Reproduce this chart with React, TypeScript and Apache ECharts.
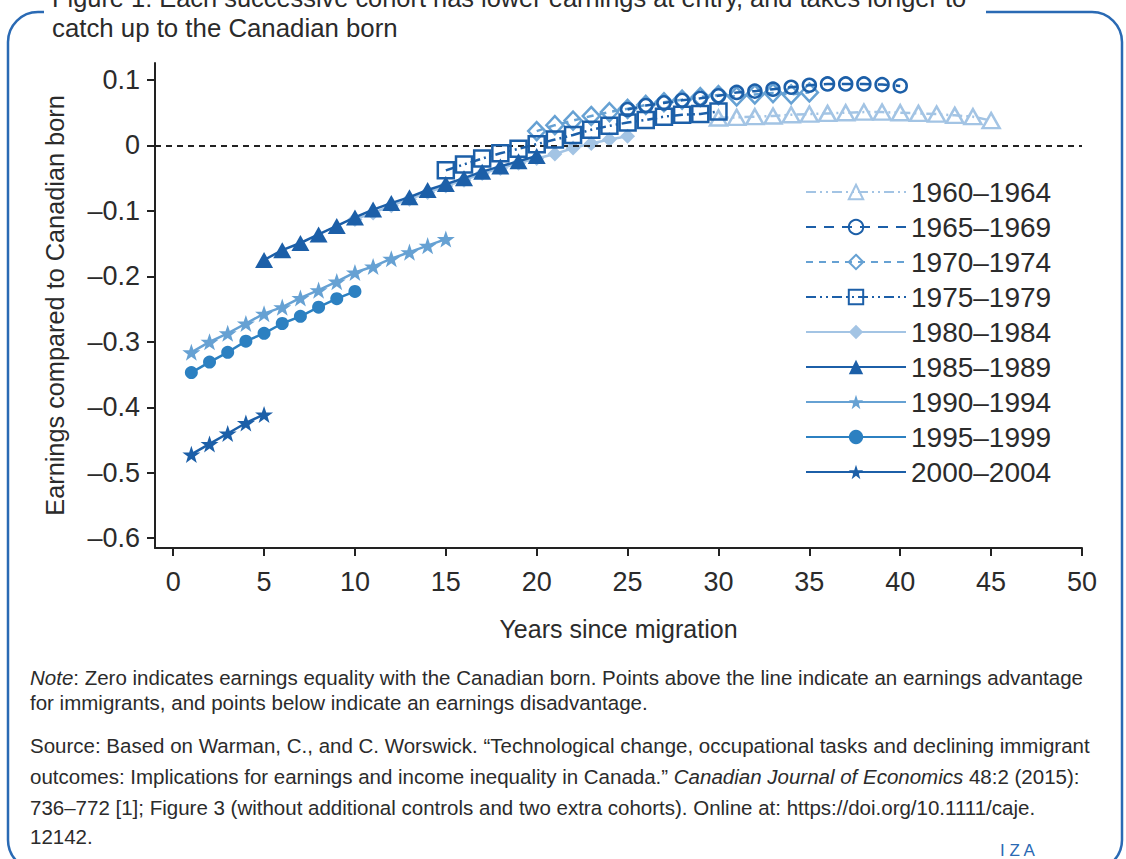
import React, { useEffect, useRef } from "react";
import * as echarts from "echarts";

// ---------- data ----------
const cohorts = ["1960–1964", "1965–1969", "1970–1974", "1975–1979", "1980–1984", "1985–1989", "1990–1994", "1995–1999", "2000–2004"];

const years1960 = [30, 31, 32, 33, 34, 35, 36, 37, 38, 39, 40, 41, 42, 43, 44, 45];
const vals1960 = [0.042, 0.043, 0.044, 0.045, 0.047, 0.048, 0.049, 0.05, 0.051, 0.051, 0.05, 0.049, 0.048, 0.046, 0.044, 0.038];

const years1965 = [25, 26, 27, 28, 29, 30, 31, 32, 33, 34, 35, 36, 37, 38, 39, 40];
const vals1965 = [0.055, 0.061, 0.065, 0.069, 0.072, 0.076, 0.081, 0.083, 0.086, 0.089, 0.092, 0.094, 0.094, 0.094, 0.093, 0.091];

const years1970 = [20, 21, 22, 23, 24, 25, 26, 27, 28, 29, 30, 31, 32, 33, 34, 35];
const vals1970 = [0.022, 0.031, 0.038, 0.045, 0.051, 0.056, 0.062, 0.066, 0.07, 0.074, 0.077, 0.075, 0.078, 0.08, 0.078, 0.081];

const years1975 = [15, 16, 17, 18, 19, 20, 21, 22, 23, 24, 25, 26, 27, 28, 29, 30];
const vals1975 = [-0.038, -0.029, -0.02, -0.012, -0.005, 0.002, 0.009, 0.016, 0.024, 0.03, 0.035, 0.039, 0.044, 0.047, 0.048, 0.052];

const years1980 = [10, 11, 12, 13, 14, 15, 16, 17, 18, 19, 20, 21, 22, 23, 24, 25];
const vals1980 = [-0.113, -0.103, -0.092, -0.082, -0.072, -0.062, -0.053, -0.043, -0.035, -0.027, -0.02, -0.013, -0.004, 0.003, 0.009, 0.014];

const years1985 = [5, 6, 7, 8, 9, 10, 11, 12, 13, 14, 15, 16, 17, 18, 19, 20];
const vals1985 = [-0.175, -0.16, -0.149, -0.136, -0.123, -0.11, -0.098, -0.088, -0.079, -0.068, -0.059, -0.05, -0.04, -0.032, -0.024, -0.016];

const years1990 = [1, 2, 3, 4, 5, 6, 7, 8, 9, 10, 11, 12, 13, 14, 15];
const vals1990 = [-0.316, -0.3, -0.287, -0.272, -0.257, -0.247, -0.233, -0.221, -0.208, -0.194, -0.185, -0.173, -0.163, -0.153, -0.143];

const years1995 = [1, 2, 3, 4, 5, 6, 7, 8, 9, 10];
const vals1995 = [-0.347, -0.331, -0.316, -0.299, -0.287, -0.272, -0.261, -0.247, -0.234, -0.223];

const years2000 = [1, 2, 3, 4, 5];
const vals2000 = [-0.472, -0.456, -0.44, -0.424, -0.411];

const xTicks = [0, 5, 10, 15, 20, 25, 30, 35, 40, 45, 50];
const yTicks = [-0.6, -0.5, -0.4, -0.3, -0.2, -0.1, 0, 0.1];

const titleLine1 = "Figure 1: Each successive cohort has lower earnings at entry, and takes longer to";
const titleLine2 = "catch up to the Canadian born";
const yAxisTitle = "Earnings compared to Canadian born";
const xAxisTitle = "Years since migration";

// ---------- styles ----------
const FONT = "'Liberation Sans', Arial, sans-serif";
const DARK = "#1c5fa8";
const MID = "#2c80c1";
const LMID = "#66a1d3";
const LIGHT = "#a3c4e4";
const FRAME = "#2a6ab4";
const TXT = "#2b2b2b";
const STAR = "path://M50,0 L61.8,35.3 L98.5,35.3 L69,57.2 L79.4,92 L50,70.6 L20.6,92 L31,57.2 L1.5,35.3 L38.2,35.3 Z";
const DASHDOTDOT = [10, 4, 2, 4, 2, 4];

const zip = (xs: number[], ys: number[]) => xs.map((x, i) => [x, ys[i]]);

function App() {
  const ref = useRef<HTMLDivElement>(null);
  useEffect(() => {
    const chart = echarts.init(ref.current!, null, { renderer: "svg" });

    const mk = (name: string, xs: number[], ys: number[], color: string, lineType: any, symbol: string, size: any, hollow: boolean, z: number, extra: any = {}) => ({
      name,
      type: "line",
      data: zip(xs, ys),
      symbol,
      symbolSize: size,
      symbolKeepAspect: true,
      showSymbol: true,
      z,
      lineStyle: { color, width: 2.5, type: lineType },
      itemStyle: hollow
        ? { color: "rgba(255,255,255,0)", borderColor: color, borderWidth: 2.5, opacity: 1 }
        : { color, borderWidth: 0 },
      emphasis: { disabled: true },
      ...extra,
    });

    const series: any[] = [
      mk(cohorts[0], years1960, vals1960, LIGHT, DASHDOTDOT, "triangle", [17, 15], true, 2),
      mk(cohorts[4], years1980, vals1980, LIGHT, "solid", "diamond", [15, 15], false, 2),
      mk(cohorts[5], years1985, vals1985, DARK, "solid", "triangle", [18, 16], false, 3, {
        markLine: {
          silent: true,
          symbol: ["none", "none"],
          label: { show: false },
          lineStyle: { color: "#222", type: [6, 5], width: 2 },
          data: [{ yAxis: 0 }],
        },
      }),
      mk(cohorts[6], years1990, vals1990, LMID, "solid", STAR, [18, 18], false, 3),
      mk(cohorts[7], years1995, vals1995, MID, "solid", "circle", 13, false, 3),
      mk(cohorts[8], years2000, vals2000, DARK, "solid", STAR, [18, 18], false, 3),
      mk(cohorts[2], years1970, vals1970, LMID, [7, 6], "diamond", [17, 18], true, 4),
      mk(cohorts[1], years1965, vals1965, DARK, [10, 8], "circle", 13, true, 5),
      mk(cohorts[3], years1975, vals1975, DARK, DASHDOTDOT, "rect", [16, 16], true, 6),
    ];

    const yFmt = (v: number) => (v < 0 ? "–" + String(Math.abs(v)) : String(v));

    const noteLines = [
      "{i|Note}: Zero indicates earnings equality with the Canadian born. Points above the line indicate an earnings advantage",
      "for immigrants, and points below indicate an earnings disadvantage.",
    ];
    const sourceLines = [
      "Source: Based on Warman, C., and C. Worswick. “Technological change, occupational tasks and declining immigrant",
      "outcomes: Implications for earnings and income inequality in Canada.” {i|Canadian Journal of Economics} 48:2 (2015):",
      "736–772 [1]; Figure 3 (without additional controls and two extra cohorts). Online at: https://doi.org/10.1111/caje.",
      "12142.",
    ];
    const NOTE_SIZE = 20.5;
    const rich = { i: { fontStyle: "italic", fontSize: NOTE_SIZE, fontFamily: FONT, fill: TXT } };
    const textEl = (t: string, x: number, y: number, size: number) => ({
      type: "text",
      x,
      y,
      silent: true,
      style: { text: t, fontSize: size, fontFamily: FONT, fill: TXT, verticalAlign: "middle", align: "left", rich },
    });

    const noteY = [677, 702];
    const srcY = [745, 776, 807, 836];

    const graphic: any[] = [
      { type: "rect", silent: true, z: 0, shape: { x: 8, y: 12, width: 1114, height: 858, r: 30 }, style: { fill: "none", stroke: FRAME, lineWidth: 2.5 } },
      { type: "rect", silent: true, z: 1, shape: { x: 44, y: 0, width: 942, height: 24 }, style: { fill: "#fff" } },
      { type: "text", z: 2, silent: true, x: 52, y: -2, style: { text: titleLine1, fontSize: 25.4, fontFamily: FONT, fill: TXT, verticalAlign: "middle" } },
      { type: "text", z: 2, silent: true, x: 52, y: 28, style: { text: titleLine2, fontSize: 25.8, fontFamily: FONT, fill: TXT, verticalAlign: "middle" } },
      ...noteLines.map((t, i) => textEl(t, 30, noteY[i], NOTE_SIZE)),
      ...sourceLines.map((t, i) => textEl(t, 30, srcY[i], NOTE_SIZE)),
      { type: "text", z: 2, silent: true, x: 1000, y: 850, style: { text: "I Z A", fontSize: 17, fontFamily: FONT, fill: FRAME, verticalAlign: "middle" } },
    ];

    chart.setOption({
      animation: false,
      backgroundColor: "#fff",
      grid: { left: 155, top: 63, width: 927, height: 485, outerBoundsMode: "none", containLabel: false },
      xAxis: {
        type: "value",
        min: -1,
        max: 50,
        name: xAxisTitle,
        nameLocation: "middle",
        nameGap: 68,
        nameTextStyle: { fontSize: 25, fontFamily: FONT, color: TXT },
        axisLine: { show: true, onZero: false, lineStyle: { color: "#222", width: 2 } },
        axisTick: { show: true, length: 8, lineStyle: { color: "#222", width: 2 }, customValues: xTicks },
        axisLabel: { fontSize: 27, fontFamily: FONT, color: TXT, margin: 20, customValues: xTicks },
        splitLine: { show: false },
      },
      yAxis: {
        type: "value",
        min: -0.615,
        max: 0.126,
        name: yAxisTitle,
        nameLocation: "middle",
        nameGap: 88,
        nameTextStyle: { fontSize: 25.3, fontFamily: FONT, color: TXT },
        axisLine: { show: true, onZero: false, lineStyle: { color: "#222", width: 2 } },
        axisTick: { show: true, length: 8, lineStyle: { color: "#222", width: 2 }, customValues: yTicks },
        axisLabel: { fontSize: 27, fontFamily: FONT, color: TXT, margin: 15, customValues: yTicks, formatter: yFmt },
        splitLine: { show: false },
      },
      legend: {
        data: cohorts,
        orient: "vertical",
        left: 805,
        top: 178,
        itemWidth: 100,
        itemHeight: 18,
        itemGap: 7,
        padding: 0,
        selectedMode: false,
        textStyle: { fontSize: 28, fontFamily: FONT, color: TXT },
      },
      series,
      graphic,
    });
    return () => chart.dispose();
  }, []);
  return <div ref={ref} style={{ position: "fixed", left: 0, top: 0, width: 1126, height: 859 }} />;
}

export default App;
